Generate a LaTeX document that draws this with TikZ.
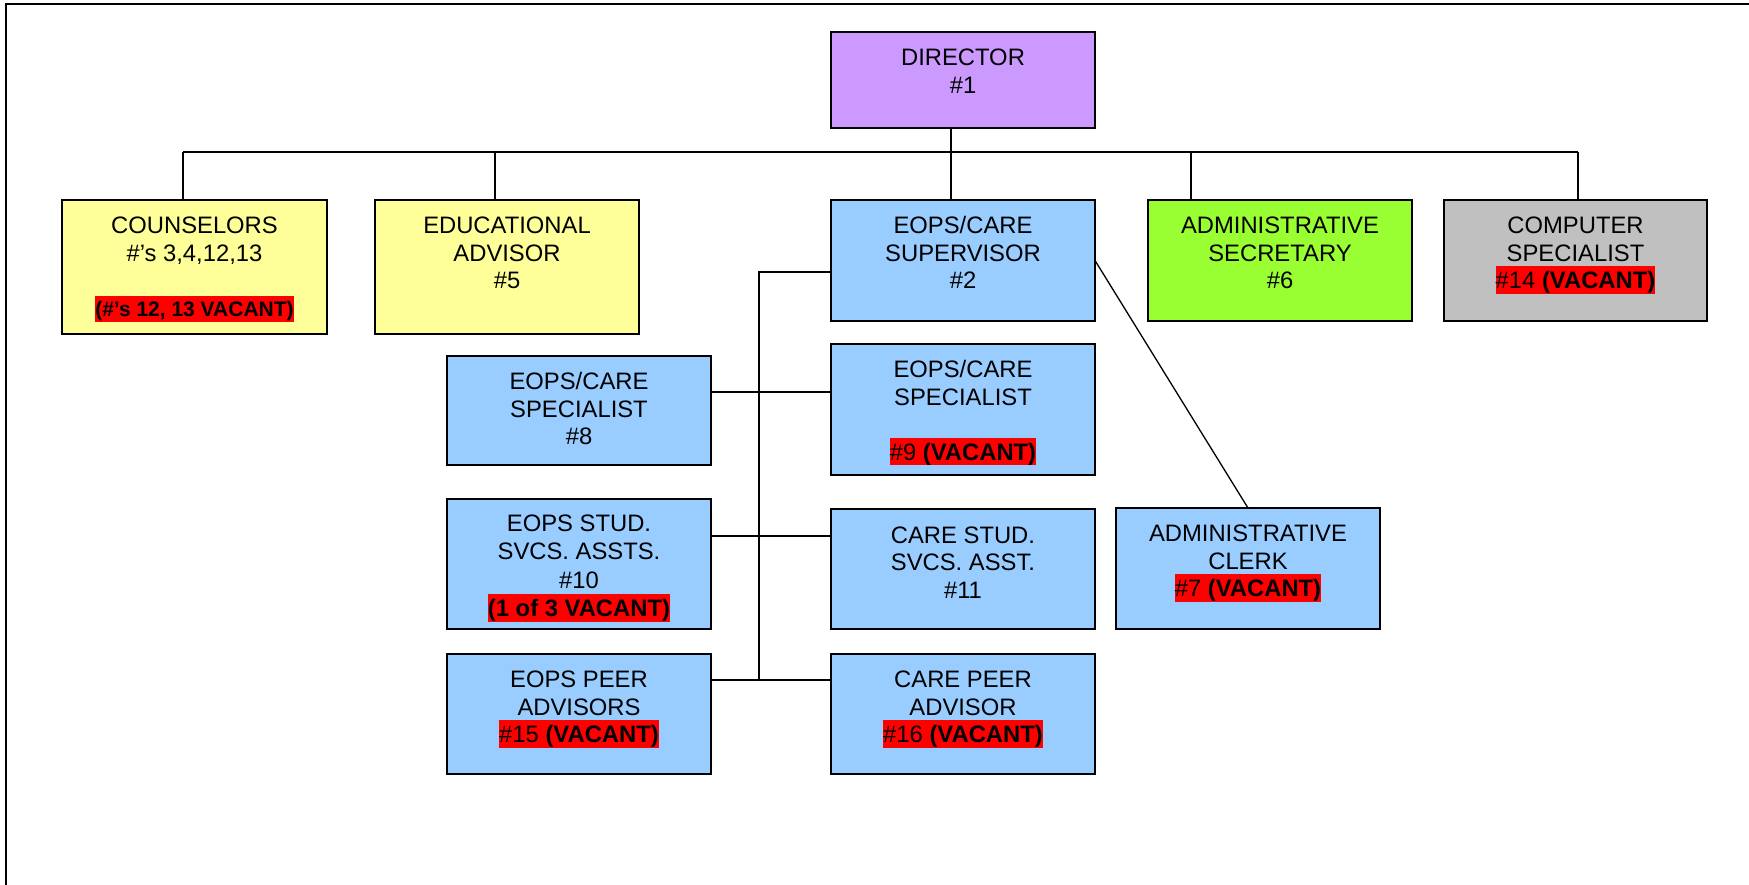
\documentclass[tikz,border=0pt]{standalone}
\usepackage{fontspec}
\setmainfont{Liberation Sans}
\definecolor{cpurple}{HTML}{CC99FF}
\definecolor{cblue}{HTML}{99CCFF}
\definecolor{cyellow}{HTML}{FFFF99}
\definecolor{cgreen}{HTML}{99FF33}
\definecolor{cgray}{HTML}{C0C0C0}
\definecolor{vred}{HTML}{FF0000}
\newcommand\bxfont{\fontsize{23.8}{27.6}\selectfont\lineskiplimit=-100pt\relax}
\newcommand\vac[1]{{\setlength{\fboxsep}{0pt}\colorbox{vred}{\rule[-5pt]{0pt}{27.5pt}#1}}}
\newcommand\vacs[1]{{\fontsize{21}{27.6}\selectfont\setlength{\fboxsep}{0pt}\colorbox{vred}{\rule[-5.5pt]{0pt}{26pt}\bfseries #1}}}
\tikzset{
  box/.style 2 args={draw=black, line width=1.6pt, rectangle, minimum width=#1, minimum height=#2, inner sep=0pt, outer sep=0pt},
  txt/.style={anchor=north, inner sep=0pt, outer sep=0pt, align=center, font=\bxfont},
  conn/.style={line width=1.3pt, black},
  frame/.style={line width=2pt, black}
}
\begin{document}
\begin{tikzpicture}[x=1pt, y=-1pt]
\useasboundingbox (0,0) rectangle (1749,885);
\draw[frame] (6,885) -- (6,4.5) -- (1749,4.5);

% boxes
\node[box={264pt}{96pt}, fill=cpurple] (dir) at (963,80) {};
\node[box={265pt}{134pt}, fill=cyellow] (couns) at (194.5,267) {};
\node[box={264pt}{134pt}, fill=cyellow] (edu) at (507,267) {};
\node[box={264pt}{121pt}, fill=cblue] (sup) at (963,260.5) {};
\node[box={264pt}{121pt}, fill=cgreen] (sec) at (1280,260.5) {};
\node[box={263pt}{121pt}, fill=cgray] (comp) at (1575.5,260.5) {};
\node[box={264pt}{109pt}, fill=cblue] (spec8) at (579,410.5) {};
\node[box={264pt}{131pt}, fill=cblue] (spec9) at (963,409.5) {};
\node[box={264pt}{130pt}, fill=cblue] (stud10) at (579,564) {};
\node[box={264pt}{120pt}, fill=cblue] (stud11) at (963,569) {};
\node[box={264pt}{120pt}, fill=cblue] (peer15) at (579,714) {};
\node[box={264pt}{120pt}, fill=cblue] (peer16) at (963,714) {};
\node[box={264pt}{121pt}, fill=cblue] (clerk) at (1248,568.5) {};

% texts
\node[txt] (dirT) at ([yshift=-14.3pt]dir.north) {\strut DIRECTOR\\\#1};
\node[txt] (counsT) at ([yshift=-14.3pt]couns.north) {\strut COUNSELORS\\\#’s 3,4,12,13\\[27.6pt]\vacs{(\#’s 12, 13 VACANT)}};
\node[txt] (eduT) at ([yshift=-14.3pt]edu.north) {\strut EDUCATIONAL\\ADVISOR\\\#5};
\node[txt] (supT) at ([yshift=-14.3pt]sup.north) {\strut EOPS/CARE\\SUPERVISOR\\\#2};
\node[txt] (secT) at ([yshift=-14.3pt]sec.north) {\strut ADMINISTRATIVE\\SECRETARY\\\#6};
\node[txt] (compT) at ([yshift=-14.3pt]comp.north) {\strut COMPUTER\\SPECIALIST\\\vac{\#14 \textbf{(VACANT)}}};
\node[txt] (spec8T) at ([yshift=-14.3pt]spec8.north) {\strut EOPS/CARE\\SPECIALIST\\\#8};
\node[txt] (spec9T) at ([yshift=-14.3pt]spec9.north) {\strut EOPS/CARE\\SPECIALIST\\[27.6pt]\vac{\#9 \textbf{(VACANT)}}};
\node[txt] (stud10T) at ([yshift=-13pt]stud10.north) {\strut EOPS STUD.\\[0.8pt]SVCS. ASSTS.\\[0.8pt]\#10\\[0.8pt]\vac{\textbf{(1 of 3 VACANT)}}};
\node[txt] (stud11T) at ([yshift=-15pt]stud11.north) {\strut CARE STUD.\\SVCS. ASST.\\\#11};
\node[txt] (peer15T) at ([yshift=-14.3pt]peer15.north) {\strut EOPS PEER\\ADVISORS\\\vac{\#15 \textbf{(VACANT)}}};
\node[txt] (peer16T) at ([yshift=-14.3pt]peer16.north) {\strut CARE PEER\\ADVISOR\\\vac{\#16 \textbf{(VACANT)}}};
\node[txt] (clerkT) at ([yshift=-14.3pt]clerk.north) {\strut ADMINISTRATIVE\\CLERK\\\vac{\#7 \textbf{(VACANT)}}};

% top bus
\coordinate (tr) at (951,152);
\coordinate (busL) at (183,152);
\coordinate (bus2) at (495,152);
\coordinate (bus4) at (1191,152);
\coordinate (busR) at (1578,152);
\draw[conn] (tr |- dir.south) -- (tr |- sup.north);
\draw[conn] (busL) -- (busR);
\draw[conn] (busL) -- (busL |- couns.north);
\draw[conn] (bus2) -- (bus2 |- edu.north);
\draw[conn] (bus4) -- (bus4 |- sec.north);
\draw[conn] (busR) -- (busR |- comp.north);

% supervisor spine
\coordinate (spine) at (759,272);
\coordinate (spineB) at (759,680);
\coordinate (h1) at (759,392);
\coordinate (h2) at (759,536);
\draw[conn] (spine -| sup.west) -- (spine) -- (spineB);
\draw[conn] (h1 -| spec8.east) -- (h1 -| spec9.west);
\draw[conn] (h2 -| stud10.east) -- (h2 -| stud11.west);
\draw[conn] (spineB -| peer15.east) -- (spineB -| peer16.west);
\draw[conn] (sup.east) -- (clerk.north);
\end{tikzpicture}
\end{document}
